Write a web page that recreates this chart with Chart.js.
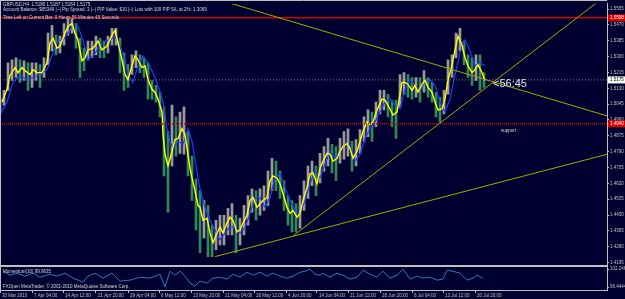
<!DOCTYPE html>
<html>
<head>
<meta charset="UTF-8">
<title>GBPUSD,H4</title>
<script src="https://cdn.jsdelivr.net/npm/chart.js"></script>
<style>
  html, body { margin: 0; padding: 0; background: #000030; }
  #wrap { width: 625px; height: 299px; }
</style>
</head>
<body>
<div id="wrap"><canvas id="c" width="625" height="299"></canvas></div>
<script>
// price scale ticks (right axis) and time labels (bottom axis)
const priceTicks = [1.5555,1.5470,1.5385,1.5300,1.5215,1.5130,1.5045,1.4960,1.4875,1.4790,1.4705,1.4620,1.4535,1.4450,1.4365,1.4280,1.4195];
const momTicks = [102.2460, 96.4444];
const xTickPos = [0,32,63,96,128,159,191,223,254,286,317,348,380,412,443,475];
const xTickLabels = ['30 Mar 2010','7 Apr 04:00','14 Apr 12:00','21 Apr 20:00','29 Apr 04:00','6 May 12:00','13 May 20:00','21 May 04:00','28 May 12:00','4 Jun 20:00','14 Jun 04:00','21 Jun 12:00','28 Jun 20:00','6 Jul 04:00','13 Jul 12:00','20 Jul 20:00'];

// H4 bars (bar index, low, high)
const barX = [0,4,8,12,16,20,24,28,32,36,40,44,48,52,56,60,64,68,72,76,80,84,88,92,96,100,104,108,112,116,120,124,128,132,136,140,144,148,152,156,160,164,168,172,176,180,184,188,192,196,200,204,208,212,216,220,224,228,232,236,240,244,248,252,256,260,264,268,272,276,280,284,288,292,296,300,304,308,312,316,320,324,328,332,336,340,344,348,352,356,360,364,368,372,376,380,384,388,392,396,400,404,408,412,416,420,424,428,432,436,440,444,448,452,456,460,464,468,472,476,480,484];
const barHigh = [1.5082,1.5119,1.5267,1.5283,1.5294,1.5283,1.5278,1.5267,1.5267,1.5267,
  1.5257,1.5294,1.5426,1.5468,1.5415,1.5410,1.5478,1.5505,1.5505,1.5478,
  1.5399,1.5346,1.5383,1.5383,1.5410,1.5399,1.5383,1.5410,1.5452,1.5452,
  1.5399,1.5320,1.5257,1.5309,1.5331,1.5309,1.5294,1.5267,1.5172,1.5146,
  1.5109,1.5030,1.4898,1.5040,1.4977,1.5003,1.5030,1.4898,1.4766,1.4644,
  1.4581,1.4528,1.4502,1.4396,1.4422,1.4449,1.4449,1.4486,1.4512,1.4449,
  1.4433,1.4502,1.4554,1.4591,1.4581,1.4591,1.4607,1.4686,1.4755,1.4739,
  1.4686,1.4634,1.4554,1.4528,1.4512,1.4554,1.4634,1.4713,1.4739,1.4713,
  1.4781,1.4818,1.4861,1.4829,1.4818,1.4861,1.4898,1.4913,1.4845,1.4855,
  1.4908,1.4977,1.5014,1.5003,1.5056,1.5119,1.5119,1.5098,1.5067,1.5067,
  1.5204,1.5214,1.5204,1.5188,1.5188,1.5188,1.5225,1.5188,1.5162,1.5109,
  1.5082,1.5119,1.5283,1.5309,1.5426,1.5452,1.5383,1.5309,1.5294,1.5309,
  1.5309,1.5214];
const barLow = [1.5003,1.5040,1.5119,1.5172,1.5188,1.5162,1.5172,1.5119,1.5135,1.5172,
  1.5135,1.5188,1.5257,1.5331,1.5309,1.5320,1.5362,1.5415,1.5426,1.5346,
  1.5188,1.5225,1.5283,1.5294,1.5309,1.5294,1.5294,1.5320,1.5362,1.5362,
  1.5214,1.5119,1.5135,1.5204,1.5241,1.5214,1.5188,1.5072,1.5072,1.5056,
  1.4977,1.4660,1.4465,1.4713,1.4766,1.4781,1.4776,1.4660,1.4528,1.4370,
  1.4248,1.4327,1.4227,1.4227,1.4264,1.4290,1.4290,1.4343,1.4343,1.4248,
  1.4290,1.4343,1.4396,1.4465,1.4422,1.4449,1.4475,1.4502,1.4581,1.4581,
  1.4539,1.4475,1.4396,1.4359,1.4359,1.4380,1.4475,1.4539,1.4607,1.4554,
  1.4623,1.4686,1.4713,1.4676,1.4634,1.4729,1.4750,1.4766,1.4686,1.4713,
  1.4781,1.4845,1.4871,1.4845,1.4924,1.4993,1.5014,1.4977,1.4924,1.4861,
  1.5030,1.5098,1.5082,1.5072,1.5082,1.5056,1.5109,1.5082,1.5056,1.4977,
  1.4950,1.4993,1.5098,1.5188,1.5294,1.5331,1.5257,1.5188,1.5146,1.5172,
  1.5119,1.5135];

// fast MA (yellow)
const fastX = [2,7,10,15,18,22,25,30,33,37,42,47,50,53,57,60,65,68,72,75,78,82,85,88,93,98,102,107,112,115,118,122,125,128,132,135,138,142,145,148,152,155,158,162,163,165,168,172,175,178,182,185,188,190,192,195,198,200,203,207,210,213,217,220,223,227,230,233,237,240,243,247,250,253,257,260,263,267,270,273,277,280,283,287,290,293,297,300,303,307,310,313,317,320,323,327,330,333,337,340,343,347,350,353,357,360,363,367,370,373,377,382,385,390,393,397,402,405,408,412,415,418,422,425,428,432,435,438,442,445,448,452,455,458,462,465,468,472,475,478,482,485];
const fastMA = [1.5056,1.5125,1.5199,1.5241,1.5214,1.5241,1.5225,1.5204,1.5230,1.5214,
  1.5214,1.5267,1.5373,1.5399,1.5346,1.5357,1.5426,1.5462,1.5478,1.5426,
  1.5389,1.5278,1.5294,1.5336,1.5346,1.5383,1.5336,1.5357,1.5415,1.5441,
  1.5373,1.5283,1.5204,1.5177,1.5251,1.5304,1.5283,1.5241,1.5251,1.5177,
  1.5125,1.5109,1.5072,1.5003,1.4882,1.4776,1.4713,1.4792,1.4855,1.4861,
  1.4913,1.4882,1.4776,1.4702,1.4649,1.4581,1.4502,1.4491,1.4422,1.4433,
  1.4354,1.4301,1.4354,1.4385,1.4354,1.4407,1.4438,1.4422,1.4359,1.4370,
  1.4407,1.4449,1.4528,1.4544,1.4491,1.4512,1.4528,1.4544,1.4634,1.4660,
  1.4649,1.4618,1.4565,1.4491,1.4459,1.4475,1.4438,1.4459,1.4528,1.4597,
  1.4671,1.4676,1.4618,1.4702,1.4739,1.4781,1.4776,1.4739,1.4755,1.4792,
  1.4818,1.4834,1.4808,1.4755,1.4792,1.4845,1.4898,1.4950,1.4935,1.4950,
  1.5014,1.5072,1.5067,1.5019,1.4987,1.5003,1.5162,1.5162,1.5151,1.5119,
  1.5146,1.5109,1.5151,1.5172,1.5135,1.5109,1.5056,1.5014,1.5019,1.5072,
  1.5177,1.5251,1.5336,1.5410,1.5362,1.5294,1.5251,1.5214,1.5230,1.5257,
  1.5214,1.5172];

// slow MA (blue)
const slowX = [0,7,13,20,27,33,40,47,53,58,63,68,73,78,83,88,93,100,105,110,115,120,125,128,133,138,143,148,153,158,163,167,170,173,178,183,188,192,196,200,205,210,215,220,225,230,235,240,245,250,255,260,265,270,275,280,285,290,295,300,305,310,315,320,325,330,335,340,345,350,355,360,365,370,375,380,385,390,395,400,405,410,415,420,425,430,435,440,445,450,455,460,465,470,475,480,485];
const slowMA = [1.4987,1.5056,1.5162,1.5199,1.5177,1.5188,1.5204,1.5230,1.5320,1.5389,
  1.5389,1.5426,1.5468,1.5462,1.5389,1.5283,1.5304,1.5357,1.5383,1.5389,
  1.5410,1.5357,1.5283,1.5204,1.5162,1.5251,1.5304,1.5267,1.5214,1.5146,
  1.5056,1.4913,1.4845,1.4808,1.4845,1.4829,1.4913,1.4845,1.4713,1.4591,
  1.4491,1.4422,1.4370,1.4317,1.4354,1.4385,1.4385,1.4354,1.4380,1.4459,
  1.4544,1.4544,1.4491,1.4544,1.4649,1.4671,1.4597,1.4528,1.4475,1.4459,
  1.4528,1.4618,1.4686,1.4649,1.4723,1.4792,1.4755,1.4792,1.4829,1.4829,
  1.4739,1.4776,1.4861,1.4913,1.4950,1.5003,1.5056,1.5072,1.5040,1.5019,
  1.5125,1.5177,1.5146,1.5119,1.5162,1.5177,1.5146,1.5056,1.5003,1.5072,
  1.5199,1.5320,1.5389,1.5331,1.5251,1.5267,1.5251];

// Momentum(10) sub-window
const momX = [3,10,17,25,33,40,50,57,65,73,83,88,95,103,112,120,130,140,150,160,165,170,175,180,185,190,195,200,207,213,220,227,233,240,247,253,260,267,273,280,287,293,300,305,310,315,320,323,330,337,343,350,357,363,370,377,383,390,397,403,410,417,423,430,437,443,447,453,460,467,473,477,483];
const momVal = [101.60,100.31,100.96,99.99,100.96,99.67,100.63,99.99,100.96,99.35,
  98.06,99.99,100.96,99.35,100.96,98.38,98.70,99.67,99.35,100.63,
  96.45,101.60,100.31,101.60,99.99,97.73,96.77,98.38,97.73,99.35,
  99.67,99.02,100.63,99.67,101.28,100.31,101.28,99.99,100.96,99.99,
  99.35,99.99,101.28,101.60,102.25,100.63,100.31,100.96,99.67,100.96,
  100.31,99.02,99.67,101.92,100.63,99.67,101.60,99.35,100.31,102.25,
  99.02,99.99,99.35,99.67,98.70,99.02,101.92,101.60,100.96,98.70,
  99.35,100.31,99.35];

// drawn objects: trend lines [x1, p1, x2, p2] and horizontal levels
const trendDown = [232, 1.5584, 607, 1.4982];
const trendUpSteep = [293, 1.4338, 607, 1.5632];
const trendUpFlat = [215, 1.4227, 607, 1.4776];
const resistLevel = 1.5508;
const bidLevel = 1.5175;
const supportLevel = 1.4940;

const BG = '#000030';
const AXIS = '#C0C0C0';
const FAM = '"Liberation Sans", Arial, sans-serif';

const xy = (xs, ys) => xs.map((x, i) => ({x: x, y: ys[i]}));
const seg = t => [{x: t[0], y: t[1]}, {x: t[2], y: t[3]}];
const hline = v => [{x: 0, y: v}, {x: 607, y: v}];

const candleColors = barX.map((x, i) => {
  if (i === 0) return '#9A9A9A';
  return (barLow[i] + barHigh[i]) >= (barLow[i - 1] + barHigh[i - 1]) ? '#9A9A9A' : '#2E8B57';
});

const mt4Plugin = {
  id: 'mt4',
  beforeDraw(chart) {
    const ctx = chart.ctx;
    ctx.save();
    ctx.fillStyle = BG;
    ctx.fillRect(0, 0, chart.width, chart.height);
    ctx.restore();
  },
  afterDraw(chart) {
    const ctx = chart.ctx;
    const y = chart.scales.y;
    const ca = chart.chartArea;
    ctx.save();
    // frame and separator between price window and indicator window
    ctx.strokeStyle = AXIS;
    ctx.lineWidth = 1;
    ctx.beginPath();
    ctx.moveTo(0, 0.5); ctx.lineTo(ca.right, 0.5);
    ctx.moveTo(0.5, 0); ctx.lineTo(0.5, ca.bottom);
    ctx.stroke();
    ctx.lineWidth = 2;
    ctx.beginPath();
    ctx.moveTo(0, Math.round(y.bottom)); ctx.lineTo(ca.right, Math.round(y.bottom));
    ctx.stroke();

    // header comments
    ctx.fillStyle = '#D8D8D8';
    ctx.font = '4.5px ' + FAM;
    ctx.textBaseline = 'middle';
    ctx.textAlign = 'left';
    ctx.fillText('GBPUSD,H4  1.5180 1.5187 1.5164 1.5175', 3, 4.5);
    ctx.fillText('Account Balance: $65346 |--| Pip Spread: 3 |--| PIP Value: $10 |--| Lots with 100 PIP S/L at 2%: 1.3069', 3, 10);
    ctx.fillText('Time Left on Current Bar: 0 Hours 56 Minutes 45 Seconds', 3, 17.5);
    ctx.fillText('support', 501, 131);

    // indicator window captions
    const ym = chart.scales.ym;
    ctx.fillText('Momentum(10) 99.9635', 3, ym.top + 5);
    ctx.fillText('FXOpen MetaTrader, \u00a9 2001-2010 MetaQuotes Software Corp.', 3, ym.bottom - 3);

    // countdown next to last bar
    ctx.font = '11px ' + FAM;
    ctx.fillStyle = '#E8E8E8';
    ctx.fillText('<56:45', 493, 84);

    // price labels on the axis
    const box = (v, fill, txt) => {
      const py = y.getPixelForValue(v);
      ctx.fillStyle = fill;
      ctx.fillRect(ca.right + 1, py - 3.5, chart.width - ca.right - 1, 7);
      ctx.fillStyle = txt;
      ctx.font = '4.5px ' + FAM;
      ctx.fillText(v.toFixed(4), ca.right + 3, py);
    };
    box(resistLevel, '#E00000', '#FFFFFF');
    box(supportLevel, '#E00000', '#FFFFFF');
    box(bidLevel, '#FFFFFF', '#000000');
    ctx.restore();
  }
};

new Chart(document.getElementById('c'), {
  type: 'line',
  data: {
    datasets: [
      { data: seg(trendDown), borderColor: '#A8A800', borderWidth: 1, pointRadius: 0, yAxisID: 'y', order: 0 },
      { data: seg(trendUpSteep), borderColor: '#A8A800', borderWidth: 1, pointRadius: 0, yAxisID: 'y', order: 0 },
      { data: seg(trendUpFlat), borderColor: '#A8A800', borderWidth: 1, pointRadius: 0, yAxisID: 'y', order: 0 },
      { data: hline(resistLevel), borderColor: '#D00000', borderWidth: 1.5, pointRadius: 0, yAxisID: 'y', order: 0 },
      { data: hline(supportLevel), borderColor: '#D00000', borderWidth: 1.5, borderDash: [1, 1], pointRadius: 0, yAxisID: 'y', order: 0 },
      { data: hline(bidLevel), borderColor: '#808080', borderWidth: 1, borderDash: [1, 2], pointRadius: 0, yAxisID: 'y', order: 0 },
      { data: xy(fastX, fastMA), borderColor: '#FFFF00', borderWidth: 1.4, pointRadius: 0, yAxisID: 'y', order: 2 },
      { data: xy(slowX, slowMA), borderColor: '#1E3CFF', borderWidth: 1.2, pointRadius: 0, yAxisID: 'y', order: 3 },
      { type: 'bar', data: barX.map((x, i) => ({x: x, y: [barLow[i], barHigh[i]]})),
        backgroundColor: candleColors, barThickness: 2, yAxisID: 'y', order: 4 },
      { data: xy(momX, momVal), borderColor: '#2080B8', borderWidth: 1, pointRadius: 0, yAxisID: 'ym', order: 1 }
    ]
  },
  options: {
    responsive: false,
    animation: false,
    events: [],
    layout: { padding: 0 },
    plugins: { legend: { display: false }, tooltip: { enabled: false }, title: { display: false } },
    scales: {
      x: {
        type: 'linear', min: 0, max: 607, offset: false,
        afterBuildTicks: s => { s.ticks = xTickPos.map(v => ({value: v})); },
        afterFit: s => { s.height = 9; },
        ticks: { autoSkip: false, maxRotation: 0, minRotation: 0, align: 'start', labelOffset: 2, padding: 0,
                 color: AXIS, font: { family: FAM, size: 4.5 }, callback: (v, i) => xTickLabels[i] },
        grid: { drawOnChartArea: false, drawTicks: true, tickLength: 3, color: AXIS, offset: false },
        border: { color: AXIS }
      },
      y: {
        type: 'linear', position: 'right', stack: 'win', stackWeight: 266,
        min: 1.4175, max: 1.5584,
        afterBuildTicks: s => { s.ticks = priceTicks.map(v => ({value: v})); },
        afterFit: s => { s.width = 18; },
        ticks: { autoSkip: false, padding: 1, color: AXIS, font: { family: FAM, size: 4.5 }, callback: v => v.toFixed(4) },
        grid: { drawOnChartArea: false, tickLength: 2, color: AXIS },
        border: { color: AXIS }
      },
      ym: {
        type: 'linear', position: 'right', stack: 'win', stackWeight: 24,
        min: 95.48, max: 103.21,
        afterBuildTicks: s => { s.ticks = momTicks.map(v => ({value: v})); },
        afterFit: s => { s.width = 18; },
        ticks: { autoSkip: false, padding: 1, color: AXIS, font: { family: FAM, size: 4.5 }, callback: v => v.toFixed(4) },
        grid: { drawOnChartArea: false, tickLength: 2, color: AXIS },
        border: { color: AXIS }
      }
    }
  },
  plugins: [mt4Plugin]
});
</script>
</body>
</html>
